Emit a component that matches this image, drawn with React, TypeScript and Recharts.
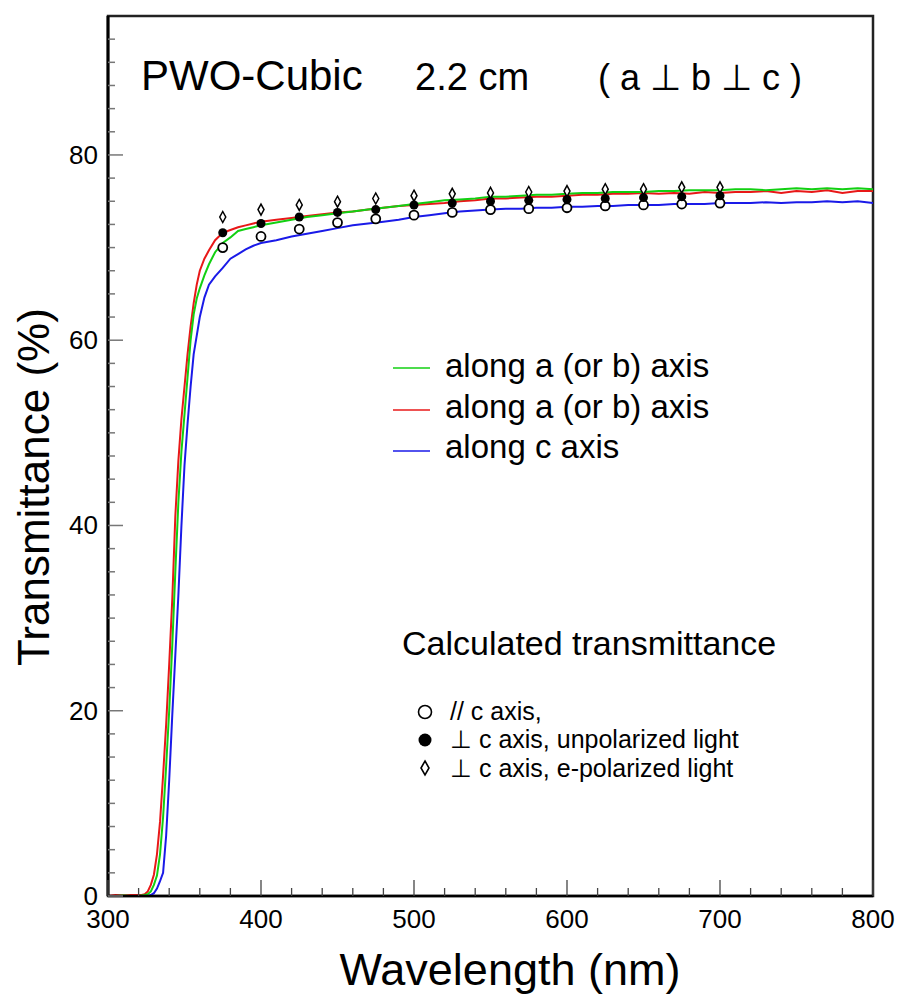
import { ComposedChart, Line, Scatter, XAxis, YAxis, ReferenceArea } from 'recharts';

const FONT = '"Liberation Sans", Arial, Helvetica, sans-serif';

// measured spectra, shared wavelength grid (nm)
const WAVELENGTHS = [
  300, 305, 310, 315, 320, 322, 324, 326, 328, 330, 332, 334, 336, 338, 340, 342, 344, 346, 348, 350,
  352, 354, 356, 358, 360, 363, 366, 370, 375, 380, 385, 390, 395, 400,
  410, 420, 430, 440, 450, 460, 470, 480, 490, 500,
  510, 520, 530, 540, 550, 560, 570, 580, 590, 600,
  610, 620, 630, 640, 650, 660, 670, 680, 690, 700,
  710, 720, 730, 740, 750, 760, 770, 780, 790, 800,
];

const ALONG_A_GREEN = [
  0, 0, 0.05, 0, 0, 0.05, 0.1, 0.2, 0.5, 1.2, 2.2, 4.5, 8.5, 14, 20, 27, 35, 42.5, 48, 52,
  56, 60, 62.8, 64.5, 65.6, 67, 68.2, 69.5, 70.5, 71.1, 71.8, 72.0, 72.2, 72.4,
  72.7, 73.0, 73.3, 73.5, 73.7, 73.9, 74.1, 74.3, 74.5, 74.7,
  74.9, 75.1, 75.2, 75.3, 75.5, 75.5, 75.6, 75.7, 75.7, 75.8,
  75.9, 75.9, 76.0, 76.0, 76.0, 76.1, 76.1, 76.2, 76.2, 76.2,
  76.3, 76.3, 76.2, 76.3, 76.4, 76.3, 76.4, 76.3, 76.4, 76.3,
];

const ALONG_A_RED = [
  0, 0.1, 0.05, 0.1, 0.1, 0.1, 0.2, 0.5, 1.2, 2.3, 4.5, 8, 13, 18.5, 25, 32, 41, 47, 51.5, 55,
  58.5, 61.5, 64, 66, 67.5, 68.8, 69.7, 70.8, 71.6, 71.9, 72.2, 72.4, 72.6, 72.8,
  73.0, 73.2, 73.4, 73.6, 73.8, 73.9, 74.1, 74.3, 74.5, 74.6,
  74.7, 74.8, 75.0, 75.1, 75.3, 75.3, 75.4, 75.5, 75.5, 75.6,
  75.7, 75.7, 75.8, 75.8, 75.9, 75.8, 75.9, 75.8, 76.0, 75.9,
  76.0, 76.0, 76.1, 75.9, 76.1, 76.0, 76.2, 75.9, 76.1, 76.1,
];

const ALONG_C_BLUE = [
  0, 0, 0, 0, 0, 0, 0, 0, 0.1, 0.3, 0.8, 1.6, 2.5, 6.5, 12.5, 19.5, 26, 32.5, 40, 46.5,
  51, 55, 58.5, 60.5, 62.5, 64.6, 66, 66.9, 67.8, 68.8, 69.3, 69.8, 70.2, 70.5,
  70.8, 71.2, 71.5, 71.8, 72.1, 72.4, 72.6, 72.8, 73.0, 73.3,
  73.5, 73.7, 73.9, 74.0, 74.1, 74.2, 74.2, 74.3, 74.3, 74.4,
  74.4, 74.5, 74.5, 74.6, 74.6, 74.6, 74.7, 74.7, 74.7, 74.8,
  74.8, 74.8, 74.9, 74.8, 74.9, 74.9, 75.0, 74.9, 75.0, 74.8,
];

// calculated transmittance points
const CALC_WAVELENGTHS = [375, 400, 425, 450, 475, 500, 525, 550, 575, 600, 625, 650, 675, 700];
const CALC_PARALLEL_C = [70.0, 71.2, 72.0, 72.7, 73.1, 73.5, 73.8, 74.1, 74.2, 74.3, 74.5, 74.6, 74.7, 74.8];
const CALC_PERP_UNPOL = [71.6, 72.6, 73.3, 73.8, 74.1, 74.6, 74.8, 75.0, 75.1, 75.2, 75.3, 75.4, 75.5, 75.6];
const CALC_PERP_EPOL = [73.3, 74.1, 74.6, 74.95, 75.3, 75.6, 75.8, 75.9, 76.0, 76.1, 76.3, 76.3, 76.5, 76.5];

const X_TICKS = [
  300, 320, 340, 360, 380, 400, 420, 440, 460, 480, 500, 520, 540, 560, 580,
  600, 620, 640, 660, 680, 700, 720, 740, 760, 780, 800,
];
const X_LABELS = [300, 400, 500, 600, 700, 800];
const Y_TICKS = [
  0, 2.5, 5, 7.5, 10, 12.5, 15, 17.5, 20, 22.5, 25, 27.5, 30, 32.5, 35, 37.5, 40, 42.5, 45, 47.5,
  50, 52.5, 55, 57.5, 60, 62.5, 65, 67.5, 70, 72.5, 75, 77.5, 80, 82.5, 85, 87.5, 90, 92.5,
];
const Y_LABELS = [0, 20, 40, 60, 80];

const GREEN = '#12d012';
const RED = '#e81818';
const BLUE = '#1a1ae8';

const toPoints = (xs: number[], ys: number[]) => xs.map((x, i) => ({ x, y: ys[i] }));

function XTick(props: any) {
  const { x, y, payload } = props;
  const major = X_LABELS.includes(payload.value);
  return (
    <g>
      <line x1={x} x2={x} y1={y} y2={y - (major ? 16 : 8)} stroke="#444" strokeWidth={1.3} />
      {major && (
        <text x={x} y={y + 32} textAnchor="middle" fontSize={26} fontFamily={FONT} fill="#000">
          {payload.value}
        </text>
      )}
    </g>
  );
}

function YTick(props: any) {
  const { x, y, payload } = props;
  const major = Y_LABELS.includes(payload.value);
  return (
    <g>
      <line x1={x} x2={x + (major ? 15 : 7)} y1={y} y2={y} stroke="#777" strokeWidth={1.5} />
      {major && (
        <text x={x - 10} y={y + 9} textAnchor="end" fontSize={26} fontFamily={FONT} fill="#000">
          {payload.value}
        </text>
      )}
    </g>
  );
}

const OpenCircle = (p: any) => (
  <circle cx={p.cx} cy={p.cy} r={4.5} fill="#fff" stroke="#000" strokeWidth={1.8} />
);
const FilledCircle = (p: any) => <circle cx={p.cx} cy={p.cy} r={4.5} fill="#000" />;
const Diamond = (p: any) => (
  <path
    d={`M${p.cx},${p.cy - 5.5} L${p.cx + 3},${p.cy} L${p.cx},${p.cy + 5.5} L${p.cx - 3},${p.cy} Z`}
    fill="#fff"
    stroke="#000"
    strokeWidth={1.5}
  />
);

export default function App() {
  const green = toPoints(WAVELENGTHS, ALONG_A_GREEN);
  const red = toPoints(WAVELENGTHS, ALONG_A_RED);
  const blue = toPoints(WAVELENGTHS, ALONG_C_BLUE);

  return (
    <div style={{ position: 'absolute', left: 0, top: 0, width: 901, height: 999, background: '#fff' }}>
      <ComposedChart width={901} height={999} margin={{ top: 16, right: 28, left: 0, bottom: 0 }}>
        <XAxis
          dataKey="x"
          type="number"
          domain={[300, 800]}
          ticks={X_TICKS}
          interval={0}
          height={103}
          tickSize={0}
          tickMargin={0}
          tickLine={false}
          tick={<XTick />}
          axisLine={{ stroke: '#000', strokeWidth: 2.5 }}
          allowDataOverflow
        />
        <YAxis
          type="number"
          domain={[0, 95]}
          ticks={Y_TICKS}
          interval={0}
          width={108}
          tickSize={0}
          tickMargin={0}
          tickLine={false}
          tick={<YTick />}
          axisLine={{ stroke: '#000', strokeWidth: 3 }}
          allowDataOverflow
        />
        <ReferenceArea x1={300} x2={800} y1={0} y2={95} fill="none" stroke="#222" strokeWidth={2.5} />
        <Line data={blue} dataKey="y" stroke={BLUE} strokeWidth={2} dot={false} isAnimationActive={false} />
        <Line data={red} dataKey="y" stroke={RED} strokeWidth={2} dot={false} isAnimationActive={false} />
        <Line data={green} dataKey="y" stroke={GREEN} strokeWidth={2} dot={false} isAnimationActive={false} />
        <Scatter data={toPoints(CALC_WAVELENGTHS, CALC_PARALLEL_C)} dataKey="y" shape={OpenCircle} isAnimationActive={false} />
        <Scatter data={toPoints(CALC_WAVELENGTHS, CALC_PERP_UNPOL)} dataKey="y" shape={FilledCircle} isAnimationActive={false} />
        <Scatter data={toPoints(CALC_WAVELENGTHS, CALC_PERP_EPOL)} dataKey="y" shape={Diamond} isAnimationActive={false} />
      </ComposedChart>

      <svg
        width={901}
        height={999}
        style={{ position: 'absolute', left: 0, top: 0, pointerEvents: 'none' }}
        fontFamily={FONT}
      >
        <text x={141} y={90} fontSize={42}>PWO-Cubic</text>
        <text x={415} y={90} fontSize={38}>2.2 cm</text>
        <text x={598} y={90} fontSize={36}>( a ⊥ b ⊥ c )</text>

        <line x1={393} x2={430} y1={368} y2={368} stroke={GREEN} strokeWidth={1.5} />
        <line x1={393} x2={430} y1={410} y2={410} stroke={RED} strokeWidth={1.5} />
        <line x1={393} x2={430} y1={451} y2={451} stroke={BLUE} strokeWidth={1.5} />
        <text x={445} y={377} fontSize={33}>along a (or b) axis</text>
        <text x={445} y={418} fontSize={33}>along a (or b) axis</text>
        <text x={445} y={458} fontSize={33}>along c axis</text>

        <text x={402} y={655} fontSize={34}>Calculated transmittance</text>
        <circle cx={425} cy={712} r={6.5} fill="#fff" stroke="#000" strokeWidth={1.6} />
        <circle cx={425} cy={740} r={6.5} fill="#000" />
        <path d="M425,761 L429,768 L425,775 L421,768 Z" fill="#fff" stroke="#000" strokeWidth={1.6} />
        <text x={450} y={720} fontSize={25}>// c axis,</text>
        <text x={450} y={748} fontSize={25}>⊥ c axis, unpolarized light</text>
        <text x={450} y={777} fontSize={25}>⊥ c axis, e-polarized light</text>

        <text x={510} y={985} fontSize={45} textAnchor="middle">Wavelength (nm)</text>
        <text transform="translate(49,487) rotate(-90)" fontSize={44} textAnchor="middle">
          Transmittance (%)
        </text>
      </svg>
    </div>
  );
}
